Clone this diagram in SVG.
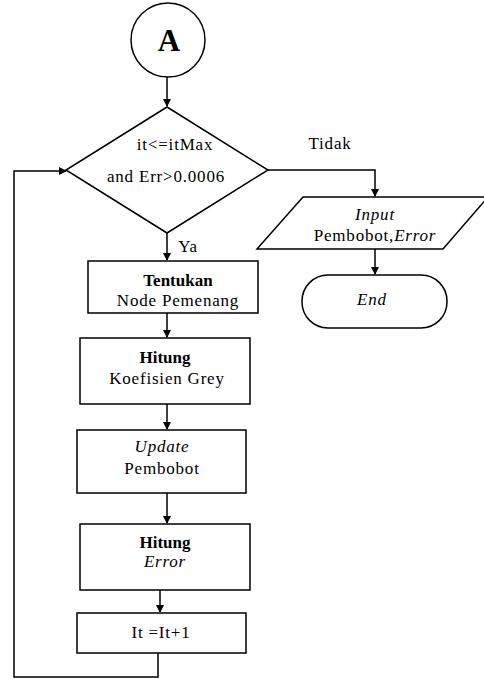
<svg xmlns="http://www.w3.org/2000/svg" width="484" height="679" viewBox="0 0 484 679">
<defs>
<marker id="ah" markerWidth="8" markerHeight="8" refX="7" refY="4" orient="auto" markerUnits="userSpaceOnUse">
<path d="M0,0 L8,4 L0,8 z" fill="#000"/>
</marker>
<style>
.s{fill:#fff;stroke:#000;stroke-width:1.5}
.c{fill:none;stroke:#000;stroke-width:1.5}
text{font-family:"Liberation Serif","Times New Roman",serif;font-size:17px;fill:#000;text-anchor:middle;letter-spacing:0.8px}
.b{font-weight:bold;letter-spacing:0px}
.i{font-style:italic}
</style>
</defs>
<rect width="484" height="679" fill="#fff"/>
<g id="connectors">
<line class="c" x1="167" y1="76" x2="167" y2="106" marker-end="url(#ah)"/>
<polyline class="c" points="268,170 375,170 375,196" marker-end="url(#ah)"/>
<line class="c" x1="375" y1="249" x2="375" y2="274" marker-end="url(#ah)"/>
<line class="c" x1="167" y1="233" x2="167" y2="260" marker-end="url(#ah)"/>
<line class="c" x1="167" y1="313" x2="167" y2="337" marker-end="url(#ah)"/>
<line class="c" x1="167" y1="404" x2="167" y2="429" marker-end="url(#ah)"/>
<line class="c" x1="167" y1="493" x2="167" y2="523" marker-end="url(#ah)"/>
<line class="c" x1="160" y1="590" x2="160" y2="612" marker-end="url(#ah)"/>
<polyline class="c" points="158,653 158,677 14,677 14,171 66,171" marker-end="url(#ah)"/>
<text x="330" y="149">Tidak</text>
<text x="188" y="252">Ya</text>
</g>
<g id="start">
<circle class="s" cx="168" cy="40" r="37"/>
<text x="169" y="51" class="b" style="font-size:31px">A</text>
</g>
<g id="decision">
<polygon class="s" points="167,107 268,170 167,233 66,170"/>
<text x="175" y="150">it&lt;=itMax</text>
<text x="166" y="182">and Err&gt;0.0006</text>
</g>
<g id="input">
<polygon class="s" points="303,197 488,197 443,249 257,249"/>
<text x="375" y="220" class="i">Input</text>
<text x="375" y="241">Pembobot,<tspan class="i">Error</tspan></text>
</g>
<g id="end">
<rect class="s" x="302" y="275" width="145" height="53" rx="26" ry="26"/>
<text x="372" y="305" class="i">End</text>
</g>
<g id="tentukan">
<rect class="s" x="88" y="261" width="170" height="52"/>
<text x="178" y="286" class="b">Tentukan</text>
<text x="178" y="306">Node Pemenang</text>
</g>
<g id="hitung1">
<rect class="s" x="80" y="338" width="170" height="66"/>
<text x="165" y="363" class="b">Hitung</text>
<text x="167" y="384">Koefisien Grey</text>
</g>
<g id="update">
<rect class="s" x="77" y="430" width="169" height="63"/>
<text x="162" y="452" class="i">Update</text>
<text x="162" y="474">Pembobot</text>
</g>
<g id="hitung2">
<rect class="s" x="80" y="524" width="170" height="66"/>
<text x="165" y="548" class="b">Hitung</text>
<text x="165" y="567" class="i">Error</text>
</g>
<g id="increment">
<rect class="s" x="77" y="613" width="169" height="40"/>
<text x="161" y="638">It =It+1</text>
</g>
</svg>
